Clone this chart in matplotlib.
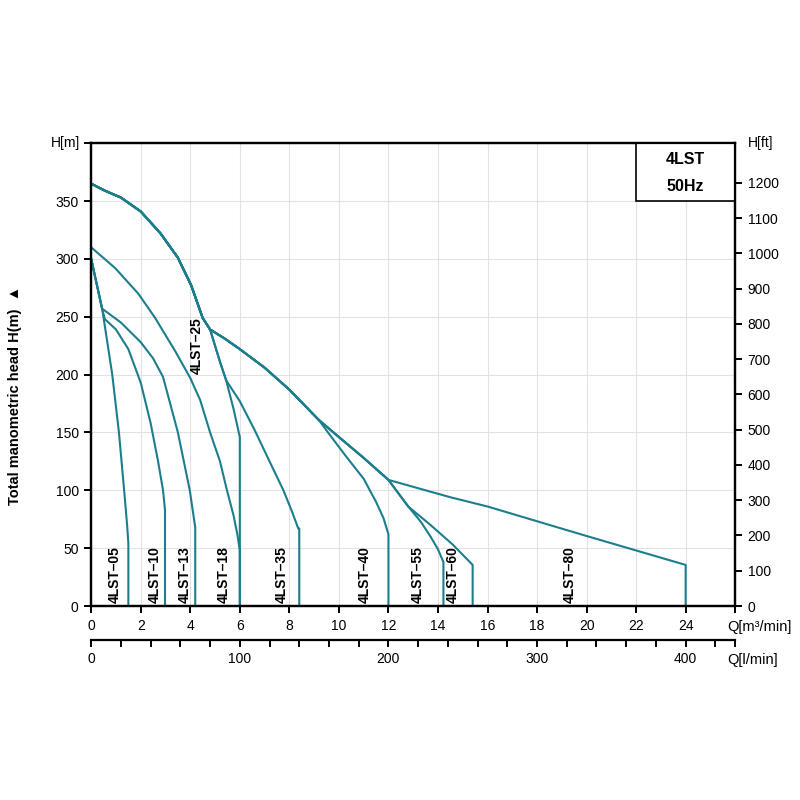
import numpy as np
import matplotlib
matplotlib.use("Agg")
import matplotlib.pyplot as plt
from matplotlib.patches import Rectangle

plt.rcParams['font.family'] = ['Liberation Sans', 'DejaVu Sans']

# curvas Q [m3/h] - H [m]
q_05 = [0, 0.45, 0.5, 0.85, 1.12, 1.33, 1.45, 1.5, 1.5]
h_05 = [300, 256, 249, 200, 150, 100, 70, 54, 0]

q_10 = [0, 0.45, 0.55, 1.0, 1.5, 2.0, 2.4, 2.7, 2.9, 2.98, 2.98]
h_10 = [300, 256, 248, 239, 222, 193, 158, 125, 100, 83, 0]

q_13 = [0, 0.44, 1.2, 2.0, 2.5, 2.9, 3.5, 3.98, 4.2, 4.2]
h_13 = [300, 257, 245, 228, 214, 198, 150, 100, 68, 0]

q_18 = [0, 0.97, 1.9, 2.58, 3.4, 4.0, 4.4, 4.8, 5.2, 5.48, 5.75, 5.9, 6.0, 6.0]
h_18 = [310, 292, 270, 249, 220, 197, 178, 150, 125, 100, 78, 62, 48, 0]

q_25 = [0, 0.55, 1.2, 2.0, 2.8, 3.5, 4.04, 4.5, 4.8, 5.2, 5.45, 5.75, 6.0, 6.0]
h_25 = [365, 359, 353, 341, 322, 301, 277, 249, 239, 211, 195, 170, 146, 0]

q_35 = [0, 0.55, 1.2, 2.0, 2.8, 3.5, 4.04, 4.5, 4.8, 5.2, 5.45, 6.0, 6.6, 7.2, 7.76, 8.1, 8.36, 8.4, 8.4]
h_35 = [365, 359, 353, 341, 322, 301, 277, 249, 239, 211, 195, 177, 152, 125, 100, 82, 67, 67, 0]

# tronco comun de las bombas grandes (sale del 25 en Q=4.8)
q_trunk = [0, 0.55, 1.2, 2.0, 2.8, 3.5, 4.04, 4.5, 4.8, 5.4, 6.0, 7.0, 8.0, 9.18]
h_trunk = [365, 359, 353, 341, 322, 301, 277, 249, 239, 231, 222, 206, 187, 161]

q_40 = q_trunk + [9.7, 10.3, 11.0, 11.5, 11.8, 12.0, 12.0]
h_40 = h_trunk + [146, 129, 110, 90, 76, 62, 0]

q_80 = q_trunk + [10.0, 11.0, 12.0, 14.5, 16.0, 20.0, 24.0, 24.0]
h_80 = h_trunk + [146, 128, 109, 94, 86, 60.5, 35.5, 0]

q_55 = q_trunk + [10.0, 11.0, 12.0, 12.8, 13.3, 13.7, 14.0, 14.22, 14.22]
h_55 = h_trunk + [146, 128, 109, 86, 73, 60, 49, 38, 0]

q_60 = q_trunk + [10.0, 11.0, 12.0, 12.8, 13.7, 14.6, 15.4, 15.4]
h_60 = h_trunk + [146, 128, 109, 86, 70, 53, 35.5, 0]

models = ['05', '10', '13', '18', '25', '35', '40', '55', '60', '80']
label_q = [0.97, 2.58, 3.77, 5.37, 4.27, 7.7, 11.06, 13.2, 14.58, 19.34]
label_h = [27, 27, 27, 27, 225, 27, 27, 27, 27, 27]

x_ticks = np.arange(0, 27, 2)
y_ticks = np.arange(0, 401, 50)
ft_ticks = np.arange(0, 1201, 100)
lmin_ticks = np.arange(0, 421, 20)

teal = '#1c7e8c'

fig, ax = plt.subplots(figsize=(8, 8), dpi=100)
fig.subplots_adjust(left=0.114, right=0.919, bottom=0.2425, top=0.821)

curves = [(q_05, h_05), (q_10, h_10), (q_13, h_13), (q_18, h_18), (q_25, h_25),
          (q_35, h_35), (q_40, h_40), (q_55, h_55), (q_60, h_60), (q_80, h_80)]
for q, h in curves:
    ax.plot(q, h, color=teal, lw=1.5, solid_joinstyle='round', zorder=2)

for m, xq, yh in zip(models, label_q, label_h):
    ax.text(xq, yh, '4LST\u2013' + m, rotation=90, ha='center', va='center',
            fontsize=10, fontweight='bold', zorder=4)

ax.set_xlim(0, 26)
ax.set_ylim(0, 400)
ax.set_xticks(x_ticks)
ax.set_xticklabels([str(v) if v < 26 else '' for v in x_ticks])
ax.set_yticks(y_ticks)
ax.set_yticklabels([str(v) if v < 400 else '' for v in y_ticks])
ax.grid(color='#e2e2e2', lw=0.8, zorder=0)
ax.set_axisbelow(True)
ax.tick_params(direction='out', length=5, width=1.4, labelsize=10, pad=4)
for s in ax.spines.values():
    s.set_linewidth(1.6)

# eje derecho en pies
ax2 = ax.twinx()
ax2.set_ylim(0, 400 / 0.3048)
ax2.set_yticks(ft_ticks)
ax2.tick_params(direction='out', length=5, width=1.4, labelsize=10, pad=4)
for s in ax2.spines.values():
    s.set_linewidth(1.6)

# eje inferior en l/min
sec = ax.secondary_xaxis(-0.0734, functions=(lambda q: q * 100 / 6, lambda l: l * 6 / 100))
sec.set_xticks(list(lmin_ticks) + [26 * 100 / 6])
sec.set_xticklabels([str(v) if v % 100 == 0 else '' for v in lmin_ticks] + [''])
sec.tick_params(direction='out', length=5, width=1.4, labelsize=10, pad=4)
sec.spines['bottom'].set_linewidth(1.6)

# recuadro con el titulo
ax.add_patch(Rectangle((22, 350), 4, 50, facecolor='white', edgecolor='black',
                       lw=1.2, zorder=3, clip_on=False))
ax.text(24, 385.5, '4LST', ha='center', va='center', fontsize=11.5, fontweight='bold', zorder=4)
ax.text(24, 363, '50Hz', ha='center', va='center', fontsize=11.5, fontweight='bold', zorder=4)

tr = ax.get_xaxis_transform()
ax.text(25.68, -0.045, 'Q[m\u00b3/min]', transform=tr, ha='left', va='center', fontsize=10.5, clip_on=False)
ax.text(25.68, -0.1166, 'Q[l/min]', transform=tr, ha='left', va='center', fontsize=10.5, clip_on=False)
ax.text(-0.017, 1.0, 'H[m]', transform=ax.transAxes, ha='right', va='center', fontsize=10)
ax.text(1.02, 1.0, 'H[ft]', transform=ax.transAxes, ha='left', va='center', fontsize=10)

fig.text(0.019, 0.506, 'Total manometric head H(m)  \u25b2', rotation=90, ha='center', va='center',
         fontsize=10.5, fontweight='bold')

fig.savefig('out.png', dpi=100)
